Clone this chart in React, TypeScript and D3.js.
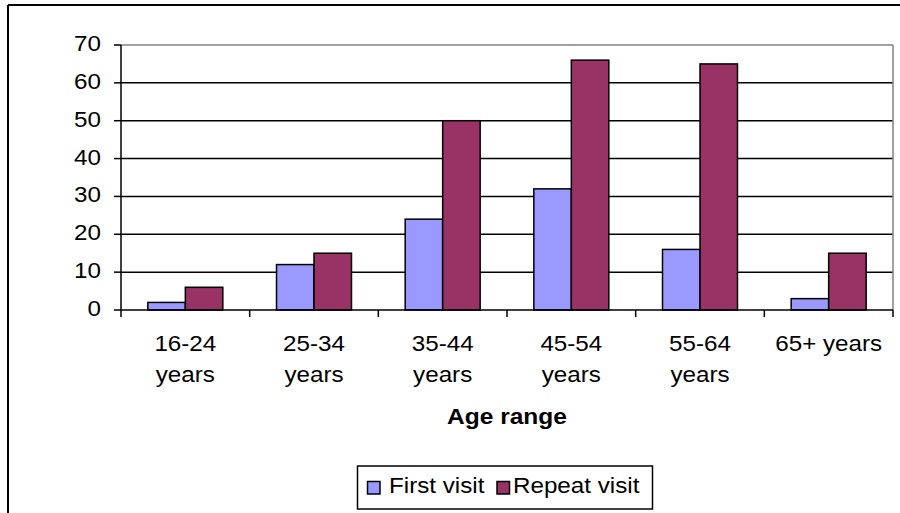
import React from "react";
import * as d3 from "d3";

const categories: string[][] = [
  ["16-24", "years"],
  ["25-34", "years"],
  ["35-44", "years"],
  ["45-54", "years"],
  ["55-64", "years"],
  ["65+ years"],
];
const seriesNames = ["First visit", "Repeat visit"];
const firstVisit = [2, 12, 24, 32, 16, 3];
const repeatVisit = [6, 15, 50, 66, 65, 15];
const yTicks = [0, 10, 20, 30, 40, 50, 60, 70];
const xTitle = "Age range";
const colors = ["#9999FF", "#993366"];

const W = 900;
const H = 513;
const FONT = "'Liberation Sans', Arial, sans-serif";
const SX = 1.1;

function T(props: {
  x: number;
  y: number;
  anchor?: "start" | "middle" | "end";
  size?: number;
  bold?: boolean;
  sx?: number;
  children: React.ReactNode;
}) {
  const { x, y, anchor = "start", size = 22, bold = false, sx = SX, children } = props;
  return (
    <text
      transform={`translate(${x},${y}) scale(${sx},1)`}
      x={0}
      y={0}
      textAnchor={anchor}
      fontSize={size}
      fontWeight={bold ? "bold" : "normal"}
      fill="#000"
    >
      {children}
    </text>
  );
}

export default function App() {
  const left = 121;
  const right = 893;
  const top = 45;
  const bottom = 310;
  const keys = categories.map((c) => c.join(" "));
  const x0 = d3.scaleBand<string>().domain(keys).range([left, right]).paddingInner(0).paddingOuter(0);
  const x1 = d3
    .scaleBand<string>()
    .domain(seriesNames)
    .range([0, x0.bandwidth()])
    .paddingInner(0)
    .paddingOuter(0.716);
  const y = d3.scaleLinear().domain([0, 70]).range([bottom, top]);
  const data = [firstVisit, repeatVisit];
  const boundaries = [...keys.map((k) => x0(k)!), right];

  return (
    <div style={{ position: "fixed", left: 0, top: 0, width: W, height: H, background: "#fff" }}>
      <svg width={W} height={H} style={{ display: "block", fontFamily: FONT }}>
        <rect x={0} y={0} width={W} height={H} fill="#fff" />
        {/* outer chart border */}
        <line x1={8} y1={5} x2={W + 10} y2={5} stroke="#000" strokeWidth={2} />
        <line x1={8} y1={5} x2={8} y2={H + 10} stroke="#000" strokeWidth={2} />
        {/* gridlines */}
        {yTicks.map((t) =>
          t > 0 && t < 70 ? (
            <line key={t} x1={left} x2={right} y1={y(t)} y2={y(t)} stroke="#000" strokeWidth={1.5} />
          ) : null
        )}
        {/* plot area border (top/right) */}
        <line x1={left} x2={right} y1={y(70)} y2={y(70)} stroke="#808080" strokeWidth={1.5} />
        <line x1={right} x2={right} y1={y(70)} y2={bottom} stroke="#808080" strokeWidth={1.5} />
        {/* bars */}
        {data.map((vals, si) =>
          vals.map((v, i) => (
            <rect
              key={`${si}-${i}`}
              x={x0(keys[i])! + x1(seriesNames[si])!}
              y={y(v)}
              width={x1.bandwidth()}
              height={bottom - y(v)}
              fill={colors[si]}
              stroke="#000"
              strokeWidth={1.5}
            />
          ))
        )}
        {/* y axis */}
        <line x1={left} x2={left} y1={top} y2={bottom} stroke="#000" strokeWidth={1.5} />
        {yTicks.map((t) => (
          <g key={t}>
            <line x1={left - 7} x2={left} y1={y(t)} y2={y(t)} stroke="#000" strokeWidth={1.5} />
            <T x={101} y={y(t) + 6} anchor="end">
              {t}
            </T>
          </g>
        ))}
        {/* x axis */}
        <line x1={left} x2={right} y1={bottom} y2={bottom} stroke="#000" strokeWidth={1.5} />
        {boundaries.map((bx, i) => (
          <line key={i} x1={bx} x2={bx} y1={bottom} y2={bottom + 7} stroke="#000" strokeWidth={1.5} />
        ))}
        {categories.map((lines, i) =>
          lines.map((l, j) => (
            <T key={`${i}-${j}`} x={x0(keys[i])! + x0.bandwidth() / 2} y={351 + j * 31} anchor="middle">
              {l}
            </T>
          ))
        )}
        <T x={(left + right) / 2} y={424} anchor="middle" size={21.5} bold sx={1.14}>
          {xTitle}
        </T>
        {/* legend */}
        <rect x={357.5} y={466} width={295} height={43} fill="#fff" stroke="#000" strokeWidth={1.5} />
        <rect x={367.5} y={481.5} width={12.5} height={12.5} fill={colors[0]} stroke="#000" strokeWidth={1.5} />
        <T x={389} y={492.5}>
          {seriesNames[0]}
        </T>
        <rect x={497} y={481.5} width={12.5} height={12.5} fill={colors[1]} stroke="#000" strokeWidth={1.5} />
        <T x={513} y={492.5}>
          {seriesNames[1]}
        </T>
      </svg>
    </div>
  );
}
